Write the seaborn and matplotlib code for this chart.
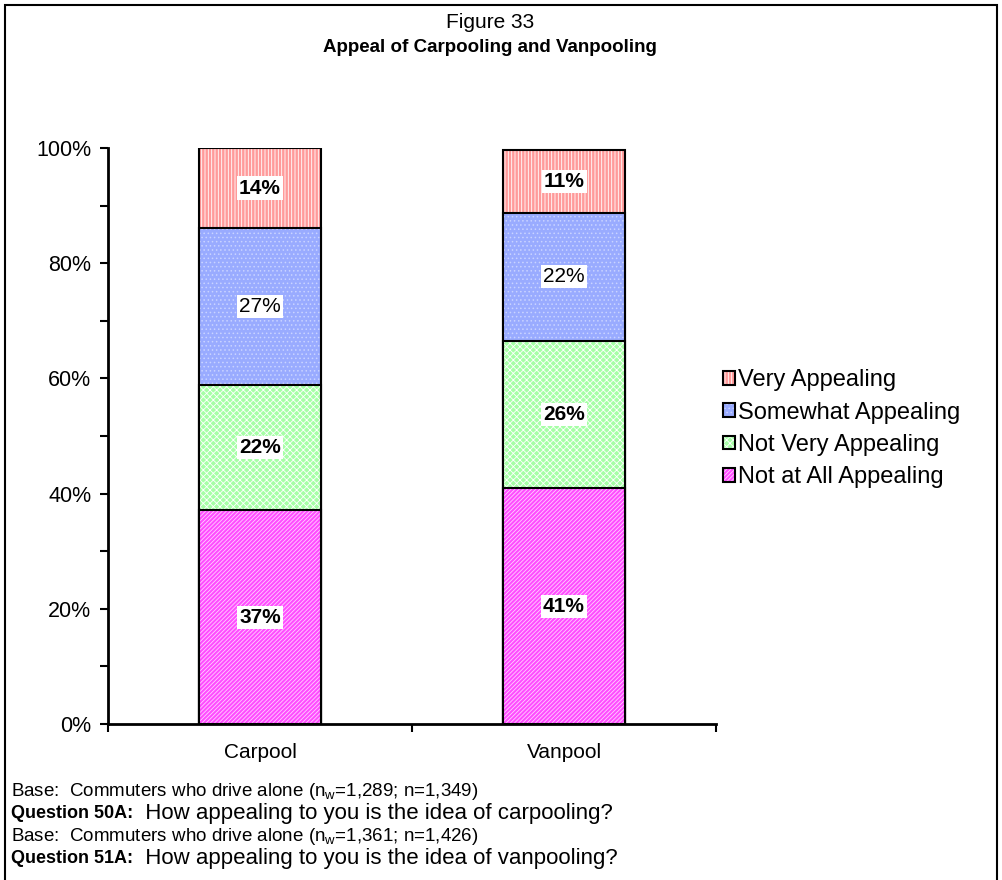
import matplotlib
matplotlib.use("Agg")
import matplotlib.pyplot as plt
from matplotlib.patches import Patch, Rectangle
from matplotlib.legend_handler import HandlerTuple
import seaborn as sns
import pandas as pd
import numpy as np

# ---- data -------------------------------------------------------------
categories = ["Carpool", "Vanpool"]
not_at_all = [37.1, 40.9]
not_very = [21.8, 25.6]
somewhat = [27.2, 22.3]
very = [13.9, 10.8]

levels = ["Not at All Appealing", "Not Very Appealing",
          "Somewhat Appealing", "Very Appealing"]
series = [not_at_all, not_very, somewhat, very]
y_ticks = [0, 20, 40, 60, 80, 100]

# ---- style ------------------------------------------------------------
sns.set_theme(style="white")
plt.rcParams["font.family"] = ["Liberation Sans", "DejaVu Sans"]
for key in ("text.color", "axes.labelcolor", "xtick.color", "ytick.color",
            "axes.edgecolor"):
    plt.rcParams[key] = "black"
plt.rcParams["mathtext.fontset"] = "custom"
plt.rcParams["mathtext.rm"] = "Liberation Sans"
plt.rcParams["mathtext.it"] = "Liberation Sans"
plt.rcParams["mathtext.bf"] = "Liberation Sans:bold"
plt.rcParams["hatch.linewidth"] = 0.6

fills = {
    "Very Appealing": "#ff9a9a",
    "Somewhat Appealing": "#99abff",
    "Not Very Appealing": "#a6ffa6",
    "Not at All Appealing": "#ff4dff",
}
hatch_colors = {
    "Very Appealing": "white",
    "Somewhat Appealing": "#c9d3ff",
    "Not Very Appealing": "white",
    "Not at All Appealing": "#ffd0ff",
}
hatches = {
    "Very Appealing": "|||||",
    "Somewhat Appealing": "....",
    "Not Very Appealing": "xxxxx",
    "Not at All Appealing": "////////",
}
bold_labels = {
    "Very Appealing": True,
    "Somewhat Appealing": False,
    "Not Very Appealing": True,
    "Not at All Appealing": True,
}

# long table with stacked (cumulative) heights
rows = []
for ci, cat in enumerate(categories):
    running = 0.0
    for lvl, vals in zip(levels, series):
        v = vals[ci]
        rows.append({"category": cat, "level": lvl, "value": v,
                     "bottom": running, "top": running + v})
        running += v
df = pd.DataFrame(rows)

fig = plt.figure(figsize=(10.02, 8.8), dpi=100)
ax = fig.add_axes([0.1078, 0.1773, 0.6068, 0.6545])

# draw tallest cumulative layer first so lower segments sit on top
for lvl in reversed(levels):
    sub = df[df["level"] == lvl]
    sns.barplot(data=sub, x="category", y="top", order=categories,
                color=fills[lvl], saturation=1, width=0.4,
                edgecolor=hatch_colors[lvl], linewidth=0,
                hatch=hatches[lvl], ax=ax, errorbar=None)
    sns.barplot(data=sub, x="category", y="top", order=categories,
                color="black", fill=False, width=0.4, linewidth=1.5,
                ax=ax, errorbar=None)

# segment value labels
for _, r in df.iterrows():
    xi = categories.index(r["category"])
    ax.text(xi, (r["bottom"] + r["top"]) / 2, f"{r['value']:.0f}%",
            ha="center", va="center", fontsize=15,
            fontweight="bold" if bold_labels[r["level"]] else "normal",
            color="black", zorder=5,
            bbox=dict(boxstyle="square,pad=0.1", facecolor="white",
                      edgecolor="none"))

# axes
ax.set_xlim(-0.5, 1.5)
ax.set_ylim(0, 100)
ax.set_xlabel("")
ax.set_ylabel("")
ax.set_yticks(y_ticks)
ax.set_yticklabels([f"{t}%" for t in y_ticks], fontsize=15.5)
ax.set_yticks(np.arange(10, 100, 20), minor=True)
ax.set_xticks(range(len(categories)))
ax.set_xticklabels(categories, fontsize=15)
ax.set_xticks([-0.5, 0.5, 1.5], minor=True)
ax.tick_params(axis="y", which="both", direction="out", length=6, width=1.5,
               color="black", left=True, pad=6)
ax.tick_params(axis="x", which="major", length=0, pad=14)
ax.tick_params(axis="x", which="minor", direction="out", length=6,
               width=1.5, color="black", bottom=True)
for side in ("top", "right"):
    ax.spines[side].set_visible(False)
for side in ("left", "bottom"):
    ax.spines[side].set_color("black")
    ax.spines[side].set_linewidth(2)
ax.grid(False)

# legend
handles = []
for lvl in reversed(levels):
    p_fill = Patch(facecolor=fills[lvl], edgecolor=hatch_colors[lvl],
                   hatch=hatches[lvl], linewidth=0)
    p_edge = Patch(facecolor="none", edgecolor="black", linewidth=1.5)
    handles.append((p_fill, p_edge))
fig.legend(handles, list(reversed(levels)),
           handler_map={tuple: HandlerTuple(ndivide=1, pad=0)},
           loc="upper left", bbox_to_anchor=(0.7216, 0.5805),
           frameon=False, fontsize=17, handlelength=0.5,
           handleheight=0.5, handletextpad=0.15, labelspacing=0.44,
           borderpad=0, borderaxespad=0)

# titles
fig.text(0.489, 1 - 22 / 880, "Figure 33", ha="center", va="center",
         fontsize=15)
fig.text(0.489, 1 - 48 / 880, "Appeal of Carpooling and Vanpooling",
         ha="center", va="center", fontsize=13.5, fontweight="bold")

# footnotes
x0 = 11 / 1002
fig.text(x0, 1 - 791 / 880,
         r"Base:  Commuters who drive alone (n$_{\mathrm{w}}$=1,289; n=1,349)",
         ha="left", va="center", fontsize=13.5)
fig.text(x0, 1 - 836 / 880,
         r"Base:  Commuters who drive alone (n$_{\mathrm{w}}$=1,361; n=1,426)",
         ha="left", va="center", fontsize=13.5)

fig.canvas.draw()
renderer = fig.canvas.get_renderer()
for ypix, lead, rest in [
        (813, "Question 50A:", "  How appealing to you is the idea of carpooling?"),
        (858, "Question 51A:", "  How appealing to you is the idea of vanpooling?")]:
    t = fig.text(x0, 1 - ypix / 880, lead, ha="left", va="center",
                 fontsize=13, fontweight="bold")
    bb = t.get_window_extent(renderer=renderer)
    fig.text(bb.x1 / fig.bbox.width, 1 - ypix / 880, rest, ha="left",
             va="center", fontsize=16)

# outer frame (open at the bottom edge)
fig.add_artist(Rectangle((5 / 1002, -0.05), 992 / 1002, 1.05 - 5 / 880,
                         transform=fig.transFigure, fill=False,
                         edgecolor="black", linewidth=1.5))

fig.savefig("out.png", dpi=100)
